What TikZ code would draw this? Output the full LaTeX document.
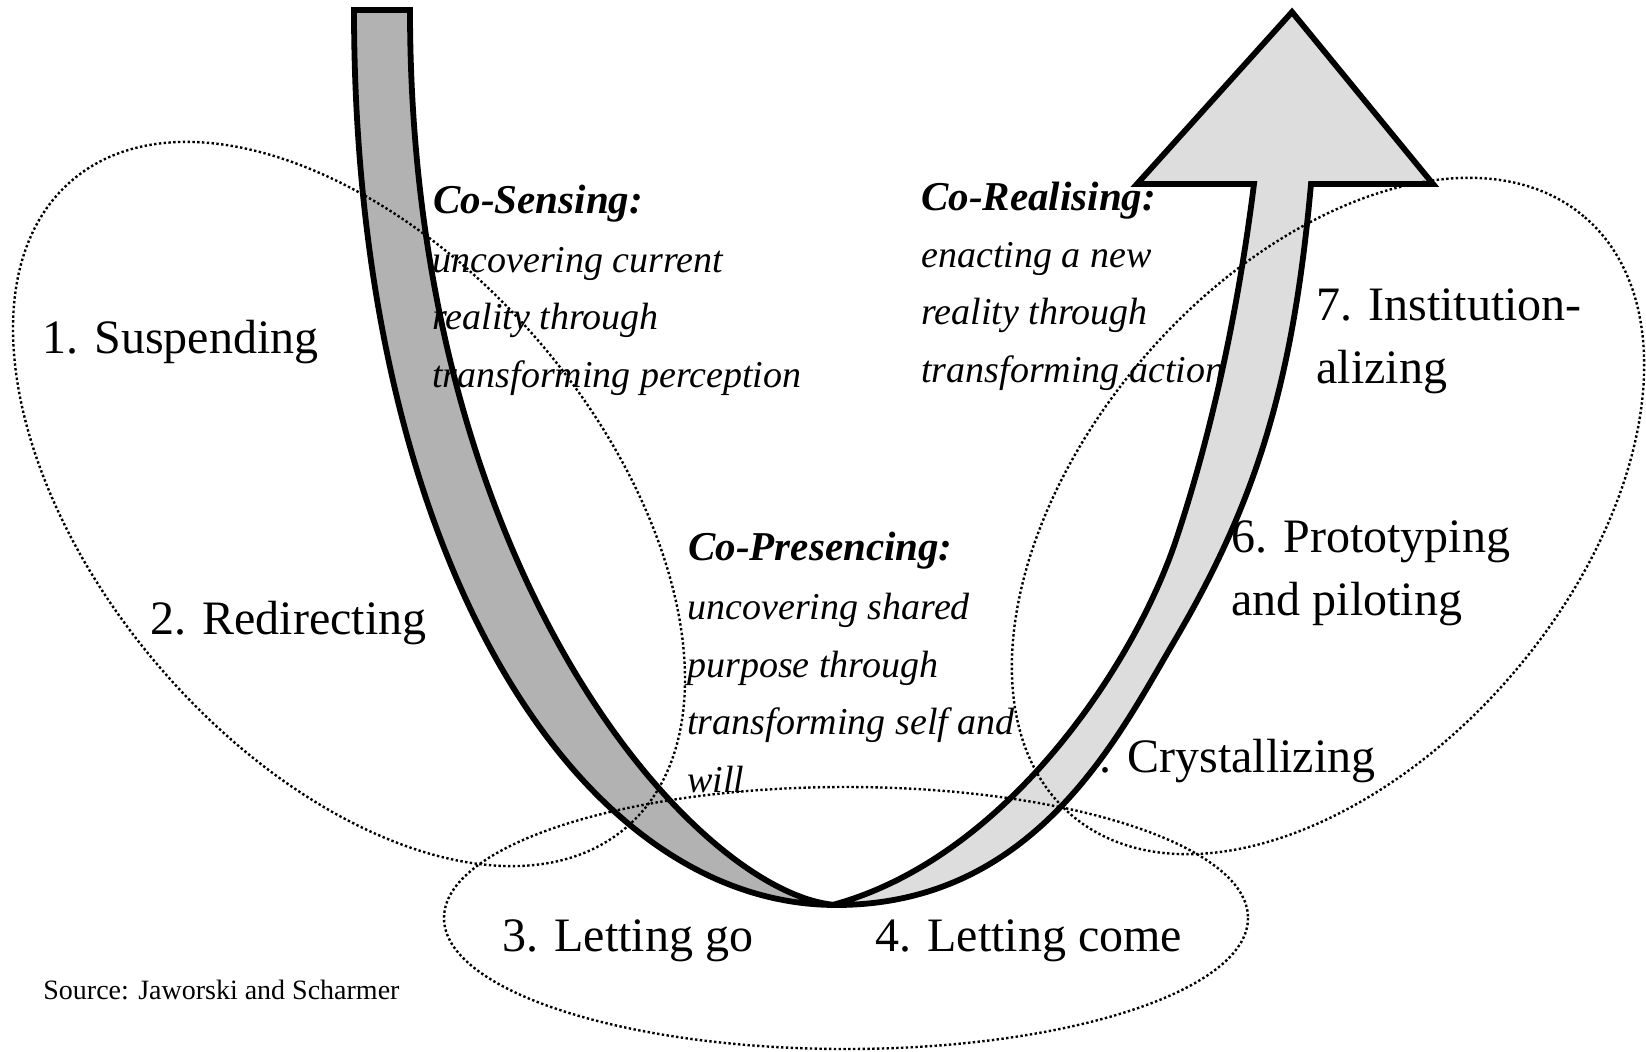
\documentclass[tikz,border=0pt]{standalone}
\usepackage{fontspec}
\setmainfont{Liberation Serif}
\definecolor{sensegray}{HTML}{B2B2B2}
\definecolor{realisegray}{HTML}{DDDDDD}

\begin{document}
\begin{tikzpicture}[
    x=0.5pt, y=-0.5pt,
    stagelabel/.style={font=\fontsize{24}{31.5}\selectfont, inner sep=0pt,
                       anchor=base west, align=left},
    phasehead/.style={font=\fontsize{20.5}{29}\selectfont\bfseries\itshape,
                      inner sep=0pt, anchor=base west},
    phasetext/.style={font=\fontsize{19}{28.75}\selectfont\itshape, inner sep=0pt,
                      anchor=base west, align=left},
    oval/.style={line width=1.2pt, dash pattern=on 1.2pt off 1.2pt},
    band/.style={draw=black, line width=2.9pt, line join=miter}
]
\useasboundingbox (0,0) rectangle (1646,1051);

% Stages (5 and 6 lie partly under the U)
\node[stagelabel] (suspend) at (42,353) {1. Suspending};
\node[stagelabel] (redirect) at (150,634) {2. Redirecting};
\node[stagelabel] (lettinggo) at (502,951) {3. Letting go};
\node[stagelabel] (lettingcome) at (875,951) {4. Letting come};
\node[stagelabel] (crystal) at (1127,772) {\llap{5.\kern8pt}Crystallizing};
\node[stagelabel] (prototype) at (1231,615) {6. Prototyping\\and piloting};
\node[stagelabel] (institution) at (1316,383) {7. Institution-\\alizing};

% Left branch of the U
\filldraw[band, fill=sensegray]
    (354,10) .. controls (354,560) and (580,905) .. (836,905)
    .. controls (700,895) and (410,580) .. (410,10) -- cycle;

% Right branch of the U with its head
\filldraw[band, fill=realisegray]
    (836,905) .. controls (1036,905) and (1119,735) .. (1175,640)
    .. controls (1256,502) and (1293,384) .. (1311,184)
    -- (1433,184) -- (1292,12) -- (1137,184) -- (1254,184)
    .. controls (1239,303) and (1214,426) .. (1176,540)
    .. controls (1135,663) and (1009,855) .. (836,904) -- cycle;

% Dotted fields
\draw[oval, rotate around={-49.4:(349,504)}] (349,504) ellipse [x radius=426, y radius=250];
\draw[oval, rotate around={49.3:(1328,516)}] (1328,516) ellipse [x radius=394, y radius=243];
\draw[oval] (846,918) ellipse [x radius=402, y radius=131];

% Movements
\node[phasehead] (sensehead) at (433,213) {Co-Sensing:};
\node[phasetext] (sensetext) at (432,387) {uncovering current\\reality through\\transforming perception};
\node[phasehead] (presencehead) at (688,560) {Co-Presencing:};
\node[phasetext] (presencetext) at (687,792) {uncovering shared\\purpose through\\transforming self and\\will};
\node[phasehead] (realisehead) at (921,210) {Co-Realising:};
\node[phasetext] (realisetext) at (921,382) {enacting a new\\reality through\\transforming action};

\node[font=\fontsize{14}{17}\selectfont, inner sep=0pt, anchor=base west] (source)
    at (43,999) {Source: Jaworski and Scharmer};

\end{tikzpicture}
\end{document}
